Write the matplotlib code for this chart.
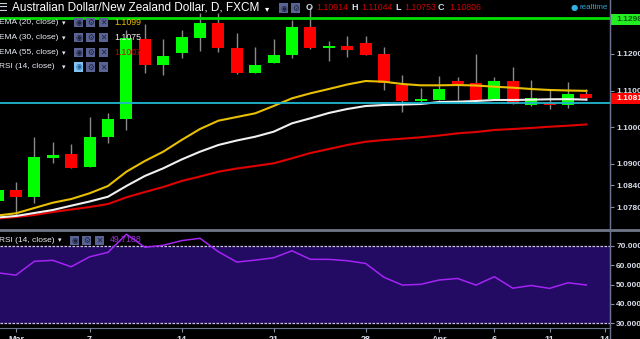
import numpy as np
import pandas as pd
import matplotlib
matplotlib.use("Agg")
import matplotlib.pyplot as plt
from matplotlib.patches import Rectangle

plt.rcParams['font.family'] = ['Liberation Sans', 'DejaVu Sans']

# ---------------- data ----------------
dates = pd.bdate_range("2016-02-29", "2016-04-13")
opens  = [1.0798, 1.0827, 1.0809, 1.0916, 1.0925, 1.0891, 1.0972, 1.1022, 1.1242, 1.1170,
          1.1204, 1.1245, 1.1286, 1.1217, 1.1149, 1.1175, 1.1197, 1.1273, 1.1217, 1.1223,
          1.1229, 1.1200, 1.1115, 1.1072, 1.1074, 1.1126, 1.1120, 1.1076, 1.1127, 1.1060,
          1.1067, 1.1059, 1.10914]
highs  = [1.0832, 1.0850, 1.0973, 1.0958, 1.0953, 1.1028, 1.1038, 1.1266, 1.1283, 1.1240,
          1.1266, 1.1312, 1.1312, 1.1257, 1.1220, 1.1240, 1.1293, 1.1330, 1.1236, 1.1249,
          1.1249, 1.1220, 1.1142, 1.1106, 1.1140, 1.1136, 1.1200, 1.1138, 1.1164, 1.1129,
          1.1103, 1.1123, 1.11044]
lows   = [1.0795, 1.0754, 1.0793, 1.0901, 1.0888, 1.0890, 1.0955, 1.0992, 1.1149, 1.1142,
          1.1188, 1.1209, 1.1206, 1.1145, 1.1147, 1.1174, 1.1188, 1.1213, 1.1182, 1.1193,
          1.1196, 1.1101, 1.1042, 1.1065, 1.1073, 1.1074, 1.1069, 1.1075, 1.1062, 1.1058,
          1.1050, 1.1051, 1.10753]
closes = [1.0827, 1.0809, 1.0917, 1.0923, 1.0889, 1.0973, 1.1022, 1.1245, 1.1169, 1.1195,
          1.1246, 1.1286, 1.1216, 1.1149, 1.1170, 1.1197, 1.1273, 1.1216, 1.1223, 1.1212,
          1.1197, 1.1121, 1.1072, 1.1077, 1.1103, 1.1118, 1.1074, 1.1127, 1.1062, 1.1079,
          1.1059, 1.1090, 1.10806]
ema20 = [1.07575, 1.07636, 1.07781, 1.07926, 1.08027, 1.08184, 1.08384, 1.08775, 1.09068, 1.09323,
         1.09644, 1.09945, 1.10173, 1.10274, 1.10375, 1.10575, 1.10786, 1.10923, 1.11041, 1.11164,
         1.11260, 1.11241, 1.11178, 1.11142, 1.11142, 1.11150, 1.11137, 1.11104, 1.11077, 1.11041,
         1.11014, 1.11000, 1.10990]
ema30 = [1.07520, 1.07562, 1.07644, 1.07726, 1.07844, 1.07959, 1.08090, 1.08384, 1.08658, 1.08868,
         1.09110, 1.09323, 1.09507, 1.09630, 1.09734, 1.09871, 1.10101, 1.10238, 1.10384, 1.10493,
         1.10575, 1.10603, 1.10616, 1.10630, 1.10685, 1.10693, 1.10712, 1.10740, 1.10740, 1.10748,
         1.10759, 1.10762, 1.10750]
ema55 = [1.07493, 1.07534, 1.07589, 1.07671, 1.07740, 1.07808, 1.07890, 1.08074, 1.08219, 1.08356,
         1.08521, 1.08644, 1.08775, 1.08863, 1.08932, 1.09005, 1.09142, 1.09288, 1.09397, 1.09507,
         1.09597, 1.09644, 1.09680, 1.09718, 1.09767, 1.09827, 1.09863, 1.09918, 1.09945, 1.09973,
         1.10008, 1.10036, 1.10070]
rsi = [56.0, 54.8, 61.9, 62.4, 59.1, 64.2, 66.5, 75.8, 69.1, 70.1,
       72.5, 73.7, 66.8, 61.5, 62.5, 63.7, 67.3, 62.9, 62.9, 62.2,
       60.8, 53.7, 49.7, 50.1, 52.3, 53.1, 49.7, 54.0, 48.1, 49.5,
       48.0, 50.9, 49.7188]
resistance = 1.1298
support = 1.10658
price_ticks = [1.0780, 1.0840, 1.0900, 1.1000, 1.1100, 1.1200]
rsi_ticks = [30, 40, 50, 60, 70]
xtick_dates = ["2016-03-01", "2016-03-07", "2016-03-14", "2016-03-21", "2016-03-28",
               "2016-04-01", "2016-04-06", "2016-04-11", "2016-04-14"]
xtick_labels = ["Mar", "7", "14", "21", "28", "Apr", "6", "11", "14"]

# ---------------- figure ----------------
W, H = 640, 339
fig = plt.figure(figsize=(W / 100, H / 100), dpi=100, facecolor='black')

def fx(x): return x / W
def fy(y): return 1 - y / H

x = np.arange(len(dates)) - 1  # Mar 1 -> 0
all_days = pd.bdate_range("2016-02-29", "2016-04-29")
xt = [int(np.where(all_days == pd.Timestamp(d))[0][0]) - 1 for d in xtick_dates]

px_per_bar = 18.4
x0px = 16.0
xlim = ((0 - x0px) / px_per_bar, (610 - x0px) / px_per_bar)

ax = fig.add_axes([0, fy(228), fx(610), 228 / H], facecolor='black')
ax.set_xlim(*xlim)
ax.set_ylim(1.12 - 174 / 3650, 1.12 + 54 / 3650)

o = np.array(opens); c = np.array(closes); hi = np.array(highs); lo = np.array(lows)
up = c >= o
cols = np.where(up, '#00ff00', '#ff0000')
ax.vlines(x, lo, hi, color='#8a8a8a', linewidth=1.0, zorder=2)
body_b = np.minimum(o, c)
body_h = np.maximum(np.abs(c - o), 0.00018)
ax.bar(x, body_h, bottom=body_b, width=0.66, color=cols, zorder=3, linewidth=0)

ax.plot(x, ema55, color='#e00000', lw=1.5, zorder=4)
ax.plot(x, ema30, color='#f0f0f0', lw=1.5, zorder=4)
ax.plot(x, ema20, color='#e8c000', lw=1.5, zorder=4)
ax.axhline(resistance, color='#00e000', lw=2.0, zorder=5)
ax.axhline(support, color='#20b8d0', lw=1.3, zorder=5)

ax.yaxis.tick_right()
ax.set_yticks(price_ticks)
ax.set_yticklabels([f"{v:.4f}" for v in price_ticks])
ax.tick_params(axis='y', colors='#8890a8', labelcolor='#d8dce8', labelsize=6,
               length=3, width=0.8, pad=1.5)
ax.set_xticks([])
for s in ['top', 'left', 'bottom']:
    ax.spines[s].set_visible(False)
ax.spines['right'].set_color('#6a7490')

# RSI panel
ax2 = fig.add_axes([0, fy(328), fx(610), (328 - 231) / H], facecolor='black')
ax2.set_xlim(*xlim)
ax2.set_ylim(27.69, 77.44)
ax2.axhspan(30, 70, color='#230a63', zorder=1)
ax2.axhline(70, color='#c8c8d0', lw=0.9, ls=(0, (2, 1.2)), zorder=2)
ax2.axhline(30, color='#c8c8d0', lw=0.9, ls=(0, (2, 1.2)), zorder=2)
ax2.plot(x, rsi, color='#a424f4', lw=1.1, zorder=3)
ax2.yaxis.tick_right()
ax2.set_yticks(rsi_ticks)
ax2.set_yticklabels([f"{v:.4f}" for v in rsi_ticks])
ax2.tick_params(axis='y', colors='#8890a8', labelcolor='#d8dce8', labelsize=6,
                length=3, width=0.8, pad=1.5)
ax2.set_xticks(xt)
ax2.set_xticklabels(xtick_labels)
ax2.tick_params(axis='x', colors='#8890a8', labelcolor='#d8dce8', labelsize=6.5,
                length=3, width=0.8, pad=2.2)
for lab in ax2.get_xticklabels():
    lab.set_fontweight('bold')
for s in ['top', 'left']:
    ax2.spines[s].set_visible(False)
ax2.spines['right'].set_color('#6a7490')
ax2.spines['bottom'].set_color('#6a7490')
for lab in ax.get_yticklabels() + ax2.get_yticklabels():
    lab.set_fontweight('bold')

# separator & full-height right line
fig.add_artist(plt.Line2D([0, 1], [fy(229.5), fy(229.5)], transform=fig.transFigure,
                          color='#6e7688', lw=2))
fig.add_artist(plt.Line2D([fx(610), fx(610)], [0, 1], transform=fig.transFigure,
                          color='#6a7490', lw=1))

# ---------------- texts ----------------
def T(xp, yp, s, color='#ffffff', size=7, ha='left', weight='normal', **kw):
    fig.text(fx(xp), fy(yp), s, color=color, fontsize=size, ha=ha, va='center',
             fontweight=weight, **kw)

def icons(xs, yc, hl_first=False):
    syms = ['◉', '⚙', '✕']
    for i, xx in enumerate(xs):
        fc = '#7fc4f0' if (hl_first and i == 0) else '#5a6494'
        fig.add_artist(Rectangle((fx(xx), fy(yc + 4.5)), 9 / W, 9 / H,
                                 transform=fig.transFigure, facecolor=fc, edgecolor='none'))
        sc = '#2060a0' if (hl_first and i == 0) else '#1c2038'
        T(xx + 4.5, yc, syms[i], color=sc, size=5.5, ha='center', family='DejaVu Sans')

T(-3, 8, '☰', color='#c8d0e0', size=8, family='DejaVu Sans')
T(12, 8, 'Australian Dollar/New Zealand Dollar, D, FXCM', color='#ffffff', size=8.5)
T(265, 8.5, '▾', color='#ffffff', size=6, family='DejaVu Sans')
for xx, sym in [(279, '◉'), (291, '⚙')]:
    fig.add_artist(Rectangle((fx(xx), fy(12.5)), 9 / W, 9 / H, transform=fig.transFigure,
                             facecolor='#5a6494', edgecolor='none'))
    T(xx + 4.5, 8, sym, color='#1c2038', size=5.5, ha='center', family='DejaVu Sans')
ohlc = [('O', 306, '1.10914', 316), ('H', 351, '1.11044', 361),
        ('L', 395, '1.10753', 404), ('C', 438, '1.10806', 449)]
for lab, lx, val, vx in ohlc:
    T(lx, 8, lab, color='#d8dce8', size=6.5, weight='bold')
    T(vx, 8, val, color='#d00000', size=6.3)
T(574, 7.5, '●', color='#30b0e0', size=6, ha='center', family='DejaVu Sans')
T(579, 7.5, 'realtime', color='#30a8d8', size=5.8)

legend_rows = [('EMA (20, close)', 22.3, '1.1099', '#e8c000'),
               ('EMA (30, close)', 37.3, '1.1075', '#f0f0f0'),
               ('EMA (55, close)', 52.3, '1.1007', '#c00000'),
               ('RSI (14, close)', 67, None, None)]
for name, yy, val, vc in legend_rows:
    T(-1, yy, name, color='#e8ecf4', size=6)
    T(62, yy + 0.5, '▾', color='#e8ecf4', size=5, family='DejaVu Sans')
    icons([74, 86, 99], yy, hl_first=(val is None))
    if val:
        T(114, yy, val, color=vc, size=6.3)

T(-1, 240, 'RSI (14, close)', color='#e8ecf4', size=6)
T(58, 240.5, '▾', color='#e8ecf4', size=5, family='DejaVu Sans')
icons([70, 82, 95], 240)
T(110, 240, '49.7188', color='#9c30d8', size=6.3)

# price labels on axis
fig.add_artist(Rectangle((fx(610), fy(25)), 30 / W, 11.5 / H, transform=fig.transFigure,
                         facecolor='#22ee22', edgecolor='none'))
T(616, 19.3, '1.1298', color='#0a5a0a', size=6, weight='bold')
fig.add_artist(Rectangle((fx(610), fy(104)), 30 / W, 11 / H, transform=fig.transFigure,
                         facecolor='#ff0000', edgecolor='none'))
T(616, 98.5, '1.1081', color='#ffffff', size=6, weight='bold')

fig.savefig('out.png', dpi=100, facecolor='black')
